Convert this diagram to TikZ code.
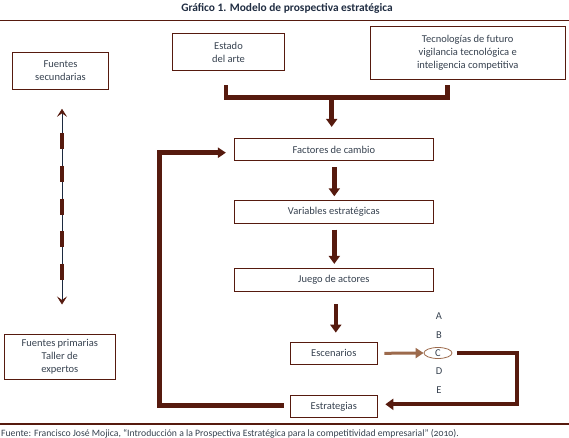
\documentclass[tikz,border=0pt]{standalone}
\usepackage{fontspec}
\setmainfont{Carlito}
\usetikzlibrary{arrows.meta,calc,shapes.geometric}
\definecolor{brn}{HTML}{561A0E}
\definecolor{lbrn}{HTML}{9C6A4C}
\definecolor{txt}{HTML}{36414F}
\definecolor{nvy}{HTML}{1C2A40}
\tikzset{
  box/.style={draw=brn, line width=0.8pt, inner sep=0pt, font=\fontsize{10.5}{12.8}\selectfont, text=txt, align=center},
  thick conn/.style={draw=brn, line width=4.6pt},
  harr/.style={-{Triangle[length=8pt,width=11pt]}},
  lbl/.style={font=\fontsize{10.5}{12.8}\selectfont, text=txt, inner sep=0pt},
}
\begin{document}
\begin{tikzpicture}[x=1pt,y=-1pt]
\useasboundingbox (0,0) rectangle (569,438);
% title
\node[font=\bfseries\fontsize{11.4}{13}\selectfont, text=nvy!85!txt] (title) at (287,8) {Gráfico 1. Modelo de prospectiva estratégica};
\draw[brn, line width=1.3pt] (0,20.5) coordinate (tl) -- (569,20.5) coordinate (tr);
% boxes
\node[box, minimum width=95.6pt, minimum height=37pt] (fs) at (60.5,70.8) {Fuentes\\secundarias};
\node[box, minimum width=112.4pt, minimum height=37.4pt] (ea) at (228.5,52) {Estado\\del arte};
\node[box, minimum width=195.3pt, minimum height=53.3pt] (tf) at (467.7,52.7) {Tecnologías de futuro\\vigilancia tecnológica e\\inteligencia competitiva};
\node[box, minimum width=199pt, minimum height=22.4pt] (fc) at (333.8,149.5) {Factores de cambio};
\node[box, minimum width=199pt, minimum height=22.6pt] (ve) at (333.8,212) {Variables estratégicas};
\node[box, minimum width=199pt, minimum height=23.4pt] (ja) at (333.8,280) {Juego de actores};
\node[box, minimum width=86.3pt, minimum height=22pt] (es) at (333.8,353) {Escenarios};
\node[box, minimum width=86.3pt, minimum height=22.5pt] (et) at (333.8,406.3) {Estrategias};
\node[box, minimum width=111.7pt, minimum height=45.7pt] (fp) at (59.8,356.9) {Fuentes primarias\\Taller de\\expertos};
% scenario letters
\node[lbl] (la) at (439,316.5) {A};
\node[lbl] (lb) at (439,334.8) {B};
\node[draw=lbrn, line width=0.8pt, ellipse, minimum width=28pt, minimum height=11pt, inner sep=0pt, font=\fontsize{10.5}{12.8}\selectfont, text=txt] (lc) at (438,353) {C};
\node[lbl] (ld) at (439,371.5) {D};
\node[lbl] (le) at (439,390) {E};
% bracket
\coordinate (b1) at ($(ea.south)+(-2.5,14.3)$);
\coordinate (b2) at ($(tf.south)+(-20.4,5.7)$);
\draw[thick conn, line cap=butt] (b1) -- ($(b1)+(0,12.3)$) -| (b2);
\draw[thick conn, harr] (331.7,97) -- ($(fc.north)+(-2.1,-11)$);
% vertical arrows
\draw[thick conn, harr] ($(fc.south)+(0.5,6)$) -- ($(ve.north)+(0.5,-4)$);
\draw[thick conn, harr] ($(ve.south)+(0.5,6)$) -- ($(ja.north)+(0.5,-4)$);
\draw[thick conn, harr] ($(ja.south)+(2,12)$) -- ($(es.north)+(2,-9)$);
% light arrow
\draw[lbrn, line width=3pt, -{Triangle[length=8pt,width=10pt]}] ($(es.east)+(7,0.3)$) -- (lc.west);
% C to Estrategias
\coordinate (cr) at (517.3,353);
\draw[thick conn, line width=4pt, harr] ($(lc.east)+(4.5,0)$) -- (cr) |- ($(et.east)+(8,-2)$);
% loop
\coordinate (lp) at (159.5,405.7);
\draw[thick conn, -{Triangle[length=8pt,width=10pt]}] ($(et.west)+(-6.5,-0.6)$) -- (lp) |- ($(fc.west)+(-8,3.2)$);
% dashed double arrow
\coordinate (dt) at (62,108.8);
\coordinate (db) at (62,304.5);
\draw[nvy, line width=0.8pt, {Stealth[length=8pt,width=10pt,inset=3.5pt,color=brn]}-{Stealth[length=8pt,width=10pt,inset=3.5pt,color=brn]}] (dt) -- (db);
\draw[brn, line width=3.6pt, dash pattern=on 16pt off 16.5pt] (62,133.5) -- (62,280);
% footer
\draw[brn, line width=1.1pt] (0,424) coordinate (fl) -- (569,424) coordinate (fr);
\node[anchor=west, inner sep=0pt, font=\fontsize{9.7}{11}\selectfont\addfontfeature{Numbers=OldStyle}, text=txt] (src) at (1,433.5) {Fuente: Francisco José Mojica, “Introducción a la Prospectiva Estratégica para la competitividad empresarial” (2010).};
\end{tikzpicture}
\end{document}
